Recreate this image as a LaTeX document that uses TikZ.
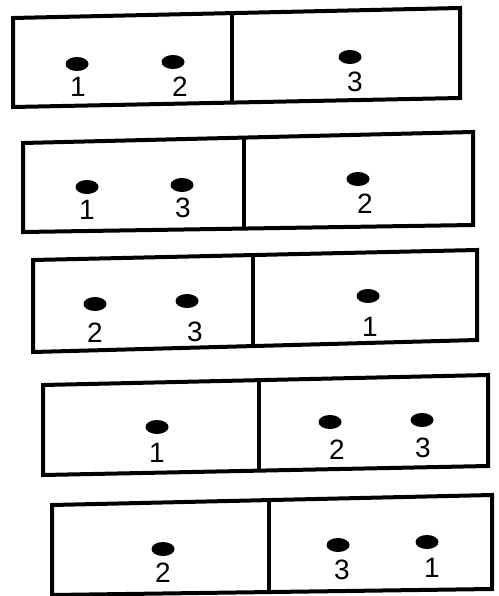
\documentclass[tikz,border=0pt]{standalone}
\usepackage{fontspec}
\setmainfont{Liberation Sans}
\usetikzlibrary{calc, shapes.geometric}

\tikzset{
  cell/.style={line width=4pt, line join=miter},
  dot/.style={ellipse, fill=black, minimum width=23pt, minimum height=14pt, inner sep=0pt},
  num/.style={font=\fontsize{28}{28}\selectfont, inner sep=0pt},
}

\begin{document}
\begin{tikzpicture}[x=1pt, y=-1pt]
\useasboundingbox (0,0) rectangle (498,596);

% ── ROW 1: 1 2 | 3 ───────────────────────────────────────────────
\coordinate (r1nw) at (13,18);  \coordinate (r1ne) at (460,8);
\coordinate (r1se) at (460,98); \coordinate (r1sw) at (13,107);
\coordinate (r1n) at ($(r1nw)!0.49!(r1ne)$);
\coordinate (r1s) at ($(r1sw)!0.49!(r1se)$);
\draw[cell] (r1nw) -- (r1ne) -- (r1se) -- (r1sw) -- cycle;
\draw[cell] (r1n) -- (r1s);
\node[dot] (r1a) at (77,64) {};
\node[dot] (r1b) at (173,62) {};
\node[dot] (r1c) at (350,57) {};
\node[num] (r1la) at (78,87) {1};
\node[num] (r1lb) at (180,87) {2};
\node[num] (r1lc) at (355,82) {3};

% ── ROW 2: 1 3 | 2 ───────────────────────────────────────────────
\coordinate (r2nw) at (23,143);  \coordinate (r2ne) at (473,132);
\coordinate (r2se) at (473,225); \coordinate (r2sw) at (23,232);
\coordinate (r2n) at ($(r2nw)!0.49!(r2ne)$);
\coordinate (r2s) at ($(r2sw)!0.49!(r2se)$);
\draw[cell] (r2nw) -- (r2ne) -- (r2se) -- (r2sw) -- cycle;
\draw[cell] (r2n) -- (r2s);
\node[dot] (r2a) at (87,187) {};
\node[dot] (r2b) at (182,185) {};
\node[dot] (r2c) at (358,179) {};
\node[num] (r2la) at (87,210) {1};
\node[num] (r2lb) at (183,208) {3};
\node[num] (r2lc) at (365,204) {2};

% ── ROW 3: 2 3 | 1 ───────────────────────────────────────────────
\coordinate (r3nw) at (33,260);  \coordinate (r3ne) at (477,250);
\coordinate (r3se) at (477,340); \coordinate (r3sw) at (33,352);
\coordinate (r3n) at ($(r3nw)!0.495!(r3ne)$);
\coordinate (r3s) at ($(r3sw)!0.495!(r3se)$);
\draw[cell] (r3nw) -- (r3ne) -- (r3se) -- (r3sw) -- cycle;
\draw[cell] (r3n) -- (r3s);
\node[dot] (r3a) at (95,304) {};
\node[dot] (r3b) at (187,301) {};
\node[dot] (r3c) at (368,296) {};
\node[num] (r3la) at (95,333) {2};
\node[num] (r3lb) at (195,332) {3};
\node[num] (r3lc) at (370,327) {1};

% ── ROW 4: 1 | 2 3 ───────────────────────────────────────────────
\coordinate (r4nw) at (43,385);  \coordinate (r4ne) at (488,375);
\coordinate (r4se) at (488,466); \coordinate (r4sw) at (43,475);
\coordinate (r4n) at ($(r4nw)!0.486!(r4ne)$);
\coordinate (r4s) at ($(r4sw)!0.486!(r4se)$);
\draw[cell] (r4nw) -- (r4ne) -- (r4se) -- (r4sw) -- cycle;
\draw[cell] (r4n) -- (r4s);
\node[dot] (r4a) at (157,427) {};
\node[dot] (r4b) at (330,422) {};
\node[dot] (r4c) at (422,420) {};
\node[num] (r4la) at (157,453) {1};
\node[num] (r4lb) at (337,450) {2};
\node[num] (r4lc) at (423,448) {3};

% ── ROW 5: 2 | 3 1 ───────────────────────────────────────────────
\coordinate (r5nw) at (52,505);  \coordinate (r5ne) at (492,495);
\coordinate (r5se) at (492,589); \coordinate (r5sw) at (52,595);
\coordinate (r5n) at ($(r5nw)!0.493!(r5ne)$);
\coordinate (r5s) at ($(r5sw)!0.493!(r5se)$);
\draw[cell] (r5nw) -- (r5ne) -- (r5se) -- (r5sw) -- cycle;
\draw[cell] (r5n) -- (r5s);
\node[dot] (r5a) at (163,549) {};
\node[dot] (r5b) at (338,545) {};
\node[dot] (r5c) at (427,542) {};
\node[num] (r5la) at (163,573) {2};
\node[num] (r5lb) at (342,570) {3};
\node[num] (r5lc) at (432,568) {1};

\end{tikzpicture}
\end{document}
